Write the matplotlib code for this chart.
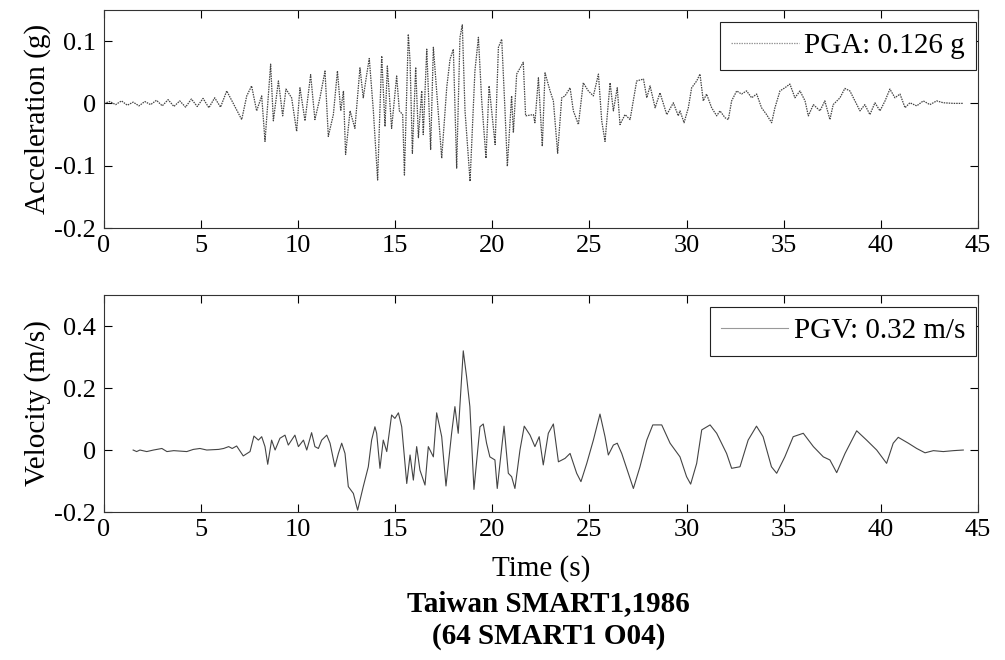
"""Acceleration and velocity time histories, Taiwan SMART1 1986 record."""

import matplotlib
matplotlib.use("Agg")
import matplotlib.pyplot as plt

plt.rcParams["font.family"] = ["Liberation Serif", "DejaVu Serif"]

# acceleration trace vertices: (time s, acceleration g)
ACC_POINTS = [
    (0.0, 0.0), (0.3, 0.003), (0.6, -0.002), (0.9, 0.004), (1.2, -0.003),
    (1.5, 0.002), (1.8, -0.004), (2.1, 0.003), (2.4, -0.002), (2.7, 0.005),
    (3.0, -0.004), (3.3, 0.006), (3.6, -0.005), (3.9, 0.004), (4.2, -0.006),
    (4.5, 0.007), (4.8, -0.005), (5.1, 0.008), (5.4, -0.007), (5.7, 0.009),
    (6.0, -0.006),
    (6.32, 0.02), (7.09, -0.026), (7.35, 0.012), (7.60, 0.028),
    (7.86, -0.012), (8.12, 0.012), (8.29, -0.061), (8.58, 0.063),
    (8.72, -0.028), (8.98, 0.036), (9.20, -0.02), (9.37, 0.023),
    (9.66, 0.009), (9.92, -0.045), (10.09, 0.025), (10.35, -0.028),
    (10.64, 0.046), (10.86, -0.026), (11.12, 0.009), (11.38, 0.052),
    (11.55, -0.053), (11.81, -0.018), (12.02, 0.052), (12.19, -0.012),
    (12.33, 0.02), (12.44, -0.082), (12.67, -0.012), (12.92, -0.04),
    (13.18, 0.057), (13.35, 0.009), (13.53, 0.047), (13.66, 0.072),
    (13.87, -0.012), (14.09, -0.123), (14.30, 0.076), (14.47, -0.037),
    (14.59, 0.06), (14.81, -0.04), (15.07, 0.044), (15.21, -0.012),
    (15.38, -0.018), (15.47, -0.115), (15.67, 0.111), (15.76, 0.068),
    (15.88, -0.08), (16.05, 0.058), (16.19, -0.055), (16.36, 0.02),
    (16.44, -0.05), (16.62, 0.087), (16.82, -0.074), (16.96, 0.09),
    (17.13, 0.02), (17.39, -0.088), (17.65, 0.026), (17.82, 0.071),
    (17.99, 0.087), (18.16, -0.104), (18.33, 0.106), (18.45, 0.126),
    (18.59, -0.012), (18.85, -0.125), (19.10, 0.052), (19.28, 0.106),
    (19.45, 0.004), (19.67, -0.088), (19.83, 0.028), (20.14, -0.066),
    (20.31, 0.09), (20.48, 0.103), (20.65, -0.012), (20.77, -0.101),
    (20.99, 0.012), (21.08, -0.047), (21.25, 0.047), (21.59, 0.066),
    (21.71, -0.02), (22.11, -0.018), (22.19, -0.031), (22.37, 0.041),
    (22.57, -0.069), (22.71, 0.049), (22.97, 0.02), (23.14, 0.004),
    (23.36, -0.08), (23.57, 0.009), (23.74, 0.012), (24.0, 0.025),
    (24.17, -0.012), (24.43, -0.034), (24.68, 0.033), (24.94, 0.02),
    (25.20, 0.012), (25.46, 0.047), (25.63, -0.028), (25.80, -0.061),
    (26.06, 0.033), (26.23, -0.012), (26.43, 0.025), (26.57, -0.034),
    (26.83, -0.018), (27.09, -0.026), (27.43, 0.036), (27.78, 0.039),
    (27.95, 0.009), (28.12, 0.028), (28.38, -0.007), (28.63, 0.017),
    (28.98, -0.018), (29.32, 0.001), (29.57, -0.02), (29.66, -0.012),
    (29.87, -0.031), (30.09, -0.007), (30.26, 0.025), (30.52, 0.036),
    (30.69, 0.047), (30.86, 0.004), (31.03, 0.015), (31.29, -0.007),
    (31.55, -0.02), (31.72, -0.012), (31.98, -0.023), (32.15, -0.026),
    (32.32, 0.004), (32.58, 0.02), (32.83, 0.015), (33.09, 0.02),
    (33.35, 0.009), (33.61, 0.015), (33.86, -0.007), (34.12, -0.018),
    (34.38, -0.031), (34.55, -0.007), (34.81, 0.02), (35.06, 0.025),
    (35.32, 0.031), (35.58, 0.009), (35.84, 0.02), (36.10, 0.004),
    (36.27, -0.02), (36.53, -0.002), (36.87, -0.012), (37.12, 0.004),
    (37.38, -0.026), (37.55, -0.002), (37.90, 0.009), (38.15, 0.024),
    (38.41, 0.02), (38.67, 0.004), (38.93, -0.012), (39.18, -0.002),
    (39.44, -0.018), (39.70, 0.001), (39.96, -0.012), (40.22, 0.004),
    (40.47, 0.023), (40.73, 0.009), (40.99, 0.015), (41.25, -0.007),
    (41.50, 0.001), (41.85, -0.004), (42.19, 0.004), (42.53, -0.002),
    (42.88, 0.004), (43.22, 0.001), (43.74, 0.0), (44.25, 0.0),
]

# velocity trace vertices: (time s, velocity m/s)
VEL_POINTS = [
    (1.5, 0.0), (1.68, -0.005), (1.85, 0.0), (2.2, -0.005), (2.55, 0.0),
    (2.98, 0.005), (3.24, -0.005), (3.59, -0.002), (4.26, -0.005),
    (4.6, 0.002), (4.94, 0.005), (5.29, 0.0), (5.9, 0.002), (6.16, 0.005),
    (6.42, 0.011), (6.6, 0.005), (6.83, 0.013), (7.17, -0.019),
    (7.52, -0.005), (7.72, 0.045), (7.95, 0.032), (8.12, 0.043),
    (8.29, 0.011), (8.43, -0.046), (8.63, 0.032), (8.81, 0.0), (9.06, 0.038),
    (9.32, 0.048), (9.49, 0.016), (9.83, 0.048), (10.01, 0.011),
    (10.27, 0.032), (10.44, 0.0), (10.69, 0.056), (10.86, 0.011),
    (11.04, 0.005), (11.21, 0.032), (11.47, 0.048), (11.64, 0.022),
    (11.89, -0.054), (12.07, -0.011), (12.24, 0.022), (12.41, -0.011),
    (12.58, -0.118), (12.84, -0.140), (13.06, -0.194), (13.35, -0.118),
    (13.61, -0.054), (13.78, 0.032), (13.95, 0.075), (14.04, 0.054),
    (14.21, -0.059), (14.38, 0.032), (14.56, -0.005), (14.81, 0.113),
    (14.98, 0.102), (15.16, 0.12), (15.33, 0.075), (15.59, -0.108),
    (15.76, -0.016), (15.93, -0.097), (16.10, 0.011), (16.27, -0.065),
    (16.53, -0.113), (16.70, 0.011), (16.96, -0.022), (17.13, 0.12),
    (17.39, 0.043), (17.61, -0.116), (17.90, 0.054), (18.07, 0.14),
    (18.24, 0.054), (18.50, 0.32), (18.67, 0.237), (18.84, 0.14),
    (19.05, -0.127), (19.36, 0.075), (19.53, 0.084), (19.70, 0.022),
    (19.87, -0.022), (20.13, -0.032), (20.25, -0.124), (20.60, 0.077),
    (20.82, -0.075), (20.99, -0.086), (21.16, -0.124), (21.42, 0.0),
    (21.64, 0.077), (21.94, 0.048), (22.19, 0.011), (22.41, 0.043),
    (22.62, -0.048), (22.88, 0.054), (23.14, 0.084), (23.40, -0.038),
    (23.74, -0.027), (24.0, -0.011), (24.34, -0.075), (24.56, -0.102),
    (24.86, -0.043), (25.20, 0.032), (25.54, 0.116), (25.80, 0.043),
    (25.97, -0.016), (26.23, 0.016), (26.43, 0.022), (26.66, -0.011),
    (27.0, -0.075), (27.26, -0.124), (27.60, -0.054), (27.95, 0.032),
    (28.26, 0.081), (28.72, 0.081), (29.15, 0.022), (29.66, -0.022),
    (30.0, -0.086), (30.21, -0.11), (30.52, -0.043), (30.78, 0.065),
    (31.21, 0.081), (31.55, 0.054), (32.06, -0.011), (32.32, -0.059),
    (32.75, -0.054), (33.17, 0.032), (33.60, 0.077), (33.94, 0.043),
    (34.37, -0.054), (34.64, -0.075), (35.06, -0.022), (35.49, 0.043),
    (36.01, 0.054), (36.53, 0.011), (37.04, -0.022), (37.38, -0.032),
    (37.73, -0.073), (38.16, -0.011), (38.76, 0.062), (39.27, 0.032),
    (39.79, 0.0), (40.30, -0.043), (40.64, 0.022), (40.90, 0.041),
    (41.42, 0.022), (41.85, 0.005), (42.28, -0.009), (42.71, -0.002),
    (43.22, -0.005), (43.74, -0.002), (44.25, 0.0),
]

X_TICKS = [0, 5, 10, 15, 20, 25, 30, 35, 40, 45]
ACC_TICKS = [-0.2, -0.1, 0, 0.1]
ACC_TICK_LABELS = ["-0.2", "-0.1", "0", "0.1"]
VEL_TICKS = [-0.2, 0, 0.2, 0.4]
VEL_TICK_LABELS = ["-0.2", "0", "0.2", "0.4"]

PGA_LABEL = "PGA: 0.126 g"
PGV_LABEL = "PGV: 0.32 m/s"

FS_TICK = 19
FS = 21


def _style(ax, yticks, ylabels, ylim):
    ax.set_xlim(0, 45)
    ax.set_ylim(*ylim)
    ax.set_xticks(X_TICKS)
    ax.set_xticklabels([str(t) for t in X_TICKS])
    ax.set_yticks(yticks)
    ax.set_yticklabels(ylabels)
    ax.tick_params(direction="in", top=True, right=True, length=6,
                   width=0.8, labelsize=FS_TICK)
    ax.tick_params(axis="y", pad=6)
    ax.tick_params(axis="x", pad=5)
    for sp in ax.spines.values():
        sp.set_linewidth(0.8)
        sp.set_color("#333333")


def _legend(ax, anchor):
    leg = ax.legend(loc="upper right", bbox_to_anchor=anchor,
                    fontsize=FS, frameon=True, fancybox=False, framealpha=1,
                    edgecolor="#222222", handlelength=2.3, borderaxespad=0,
                    borderpad=0.38, handletextpad=0.2)
    leg.get_frame().set_linewidth(0.8)
    for h in leg.get_lines():
        h.set_color("#999999")
    return leg


acc_t, acc_g = zip(*ACC_POINTS)
vel_t, vel_ms = zip(*VEL_POINTS)

fig = plt.figure(figsize=(10.05, 6.6), dpi=100)
ax_a = fig.add_axes([0.1035, 0.6545, 0.8695, 0.3305])
ax_v = fig.add_axes([0.1035, 0.2242, 0.8695, 0.3288])

ax_a.plot(acc_t, acc_g, color="#444444", lw=0.9, ls=(0, (1.2, 0.8)),
          label=PGA_LABEL)
_style(ax_a, ACC_TICKS, ACC_TICK_LABELS, (-0.2, 0.15))
ax_a.set_ylabel("Acceleration (g)", fontsize=FS, labelpad=2)
_legend(ax_a, (0.998, 0.945))

ax_v.plot(vel_t, vel_ms, color="#444444", lw=0.8, label=PGV_LABEL)
_style(ax_v, VEL_TICKS, VEL_TICK_LABELS, (-0.2, 0.5))
ax_v.set_ylabel("Velocity (m/s)", fontsize=FS, labelpad=2)
ax_v.set_xlabel("Time (s)", fontsize=FS, labelpad=10)
_legend(ax_v, (0.998, 0.945))

fig.text(0.546, 0.085, "Taiwan SMART1,1986", ha="center", va="center",
         fontsize=FS, fontweight="bold")
fig.text(0.546, 0.036, "(64 SMART1 O04)", ha="center", va="center",
         fontsize=FS, fontweight="bold")

fig.savefig("out.png", dpi=100)
